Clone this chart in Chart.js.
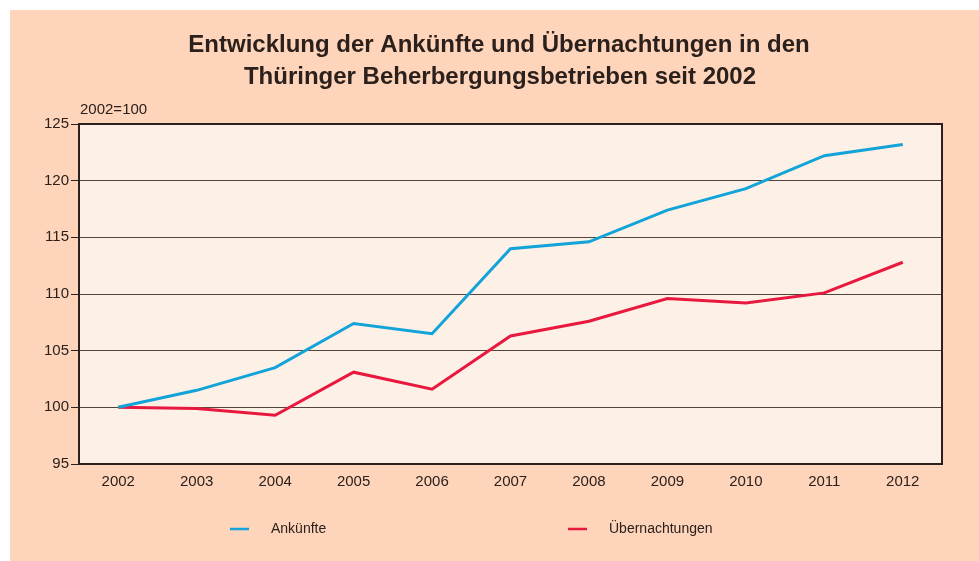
<!DOCTYPE html>
<html>
<head>
<meta charset="utf-8">
<script src="https://cdn.jsdelivr.net/npm/chart.js@4"></script>
<style>
  html, body { margin: 0; padding: 0; background: #fff; }
  #wrap { width: 979px; height: 561px; position: relative; }
</style>
</head>
<body>
<div id="wrap"><canvas id="tourismChart"></canvas></div>
<script>
// ── Data ───────────────────────────────────────────────────
const years = ['2002', '2003', '2004', '2005', '2006', '2007', '2008', '2009', '2010', '2011', '2012'];
const ankuenfte = [100, 101.5, 103.5, 107.4, 106.5, 114.0, 114.6, 117.4, 119.3, 122.2, 123.2];
const uebernachtungen = [100, 99.9, 99.3, 103.1, 101.6, 106.3, 107.6, 109.6, 109.2, 110.1, 112.8];
const titleLines = ['Entwicklung der Ankünfte und Übernachtungen in den', 'Thüringer Beherbergungsbetrieben seit 2002'];
const unitLabel = '2002=100';

const INK = '#2b201b';
const FONT = '"Liberation Sans", Arial, sans-serif';

// ── Background, title, frame and legend ────────────────────
const decor = {
  id: 'decor',
  beforeDraw(chart) {
    const { ctx, chartArea: a, width, height } = chart;
    ctx.save();
    ctx.fillStyle = '#fed5bb';
    ctx.fillRect(10, 10, width - 10, height - 10);
    ctx.fillStyle = '#fdf0e6';
    ctx.fillRect(a.left, a.top, a.right - a.left, a.bottom - a.top);

    ctx.fillStyle = INK;
    ctx.textAlign = 'center';
    ctx.textBaseline = 'alphabetic';
    ctx.font = 'bold 24px ' + FONT;
    ctx.fillText(titleLines[0], 499, 52);
    ctx.fillText(titleLines[1], 500, 84);

    ctx.textAlign = 'left';
    ctx.font = '15px ' + FONT;
    ctx.fillText(unitLabel, 80, 114);
    ctx.restore();
  },
  afterDatasetsDraw(chart) {
    const { ctx, chartArea: a } = chart;
    ctx.save();
    ctx.strokeStyle = INK;
    ctx.lineWidth = 2;
    ctx.beginPath();
    ctx.moveTo(a.left, a.top);
    ctx.lineTo(a.right, a.top);
    ctx.lineTo(a.right, a.bottom);
    ctx.stroke();

    // legend
    const slots = [230, 568];
    ctx.font = '14px ' + FONT;
    ctx.textBaseline = 'middle';
    chart.data.datasets.forEach((ds, i) => {
      const x = slots[i];
      ctx.strokeStyle = ds.borderColor;
      ctx.lineWidth = 2.5;
      ctx.beginPath();
      ctx.moveTo(x, 529);
      ctx.lineTo(x + 19, 529);
      ctx.stroke();
      ctx.fillStyle = INK;
      ctx.fillText(ds.label, x + 41, 529);
    });
    ctx.restore();
  }
};

// ── Chart ──────────────────────────────────────────────────
const ctx = document.getElementById('tourismChart').getContext('2d');
const tourismChart = new Chart(ctx, {
  type: 'line',
  data: {
    labels: years,
    datasets: [
      {
        label: 'Ankünfte',
        data: ankuenfte,
        borderColor: '#12a4d9',
        borderWidth: 3,
        pointRadius: 0,
        tension: 0,
      },
      {
        label: 'Übernachtungen',
        data: uebernachtungen,
        borderColor: '#e8193f',
        borderWidth: 3,
        pointRadius: 0,
        tension: 0,
      }
    ]
  },
  options: {
    responsive: true,
    maintainAspectRatio: false,
    animation: false,
    layout: { padding: { left: 10, right: 37, top: 124, bottom: 67 } },
    plugins: {
      legend: { display: false },
      tooltip: { enabled: false },
      title: { display: false }
    },
    scales: {
      x: {
        offset: true,
        grid: { display: false, drawTicks: false },
        border: { display: true, color: INK, width: 2 },
        ticks: { color: INK, font: { family: FONT, size: 15 }, padding: 9, maxRotation: 0 },
        afterFit: s => { s.height = 30; }
      },
      y: {
        min: 95,
        max: 125,
        grid: {
          color: '#54453c',
          lineWidth: 1,
          tickColor: INK,
          tickLength: 8,
          drawTicks: true
        },
        border: { display: true, color: INK, width: 2 },
        ticks: { stepSize: 5, color: INK, font: { family: FONT, size: 15 }, padding: 2 },
        afterFit: s => { s.width = 69; }
      }
    }
  },
  plugins: [decor]
});
</script>
</body>
</html>
